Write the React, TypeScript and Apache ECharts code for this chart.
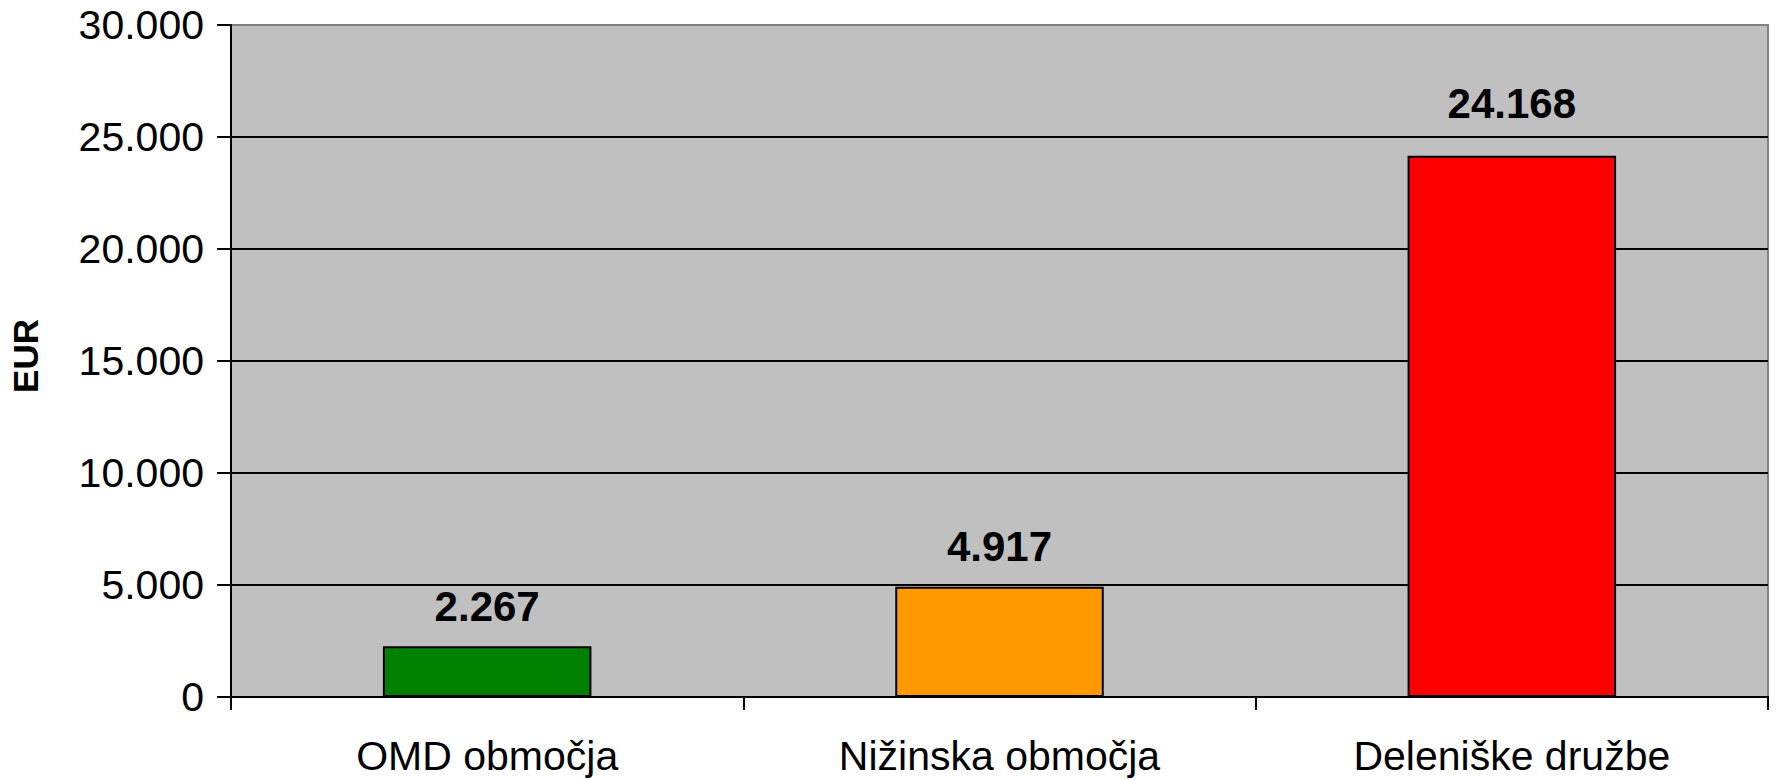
import React, { useEffect, useRef } from "react";
import * as echarts from "echarts";

const categories = ["OMD območja", "Nižinska območja", "Deleniške družbe"];
const values = [2267, 4917, 24168];
const barColors = ["#008000", "#FF9900", "#FF0000"];
const yTicks = [0, 5000, 10000, 15000, 20000, 25000, 30000];

const fmt = (v: number) => String(Math.round(v)).replace(/\B(?=(\d{3})+(?!\d))/g, ".");

export default function App() {
  const ref = useRef<HTMLDivElement>(null);
  useEffect(() => {
    if (!ref.current) return;
    const chart = echarts.init(ref.current, undefined, { renderer: "svg" });
    const font = "'Liberation Sans', Arial, sans-serif";
    chart.setOption({
      animation: false,
      textStyle: { fontFamily: font },
      grid: {
        left: 227,
        right: 15,
        top: 25,
        bottom: 83,
        show: true,
        backgroundColor: "#C0C0C0",
        borderColor: "#808080",
        borderWidth: 2,
      },
      xAxis: {
        type: "category",
        data: categories,
        axisLine: { lineStyle: { color: "#000", width: 2 } },
        axisTick: { show: true, length: 13, lineStyle: { color: "#000", width: 2 } },
        axisLabel: { color: "#000", fontSize: 41, fontFamily: font, margin: 38 },
        splitLine: { show: false },
      },
      yAxis: {
        type: "value",
        min: yTicks[0],
        max: yTicks[yTicks.length - 1],
        interval: yTicks[1] - yTicks[0],
        name: "EUR",
        nameLocation: "middle",
        nameGap: 188,
        nameTextStyle: { color: "#000", fontSize: 35, fontWeight: "bold", fontFamily: font, padding: [0, 0, 0, 10] },
        axisLine: { show: true, lineStyle: { color: "#000", width: 2 } },
        axisTick: { show: true, length: 14, lineStyle: { color: "#000", width: 2 } },
        axisLabel: { color: "#000", fontSize: 41, fontFamily: font, margin: 27, formatter: (v: number) => fmt(v) },
        splitLine: {
          show: true,
          lineStyle: { color: yTicks.map((t, i) => (i === yTicks.length - 1 ? "#808080" : "#000")), width: 2 },
        },
      },
      series: [
        {
          type: "bar",
          barWidth: "40.7%",
          data: values.map((v, i) => ({
            value: v,
            itemStyle: { color: barColors[i] },
            label: { distance: i === 2 ? 31 : 19 },
          })),
          itemStyle: { borderColor: "#000", borderWidth: 2 },
          label: {
            show: true,
            position: "top",
            color: "#000",
            fontSize: 42,
            fontWeight: "bold",
            fontFamily: font,
            formatter: (p: any) => fmt(p.value),
          },
        },
      ],
    });
    return () => chart.dispose();
  }, []);
  return <div ref={ref} style={{ width: 1783, height: 780, position: "absolute", left: 0, top: 0 }} />;
}
